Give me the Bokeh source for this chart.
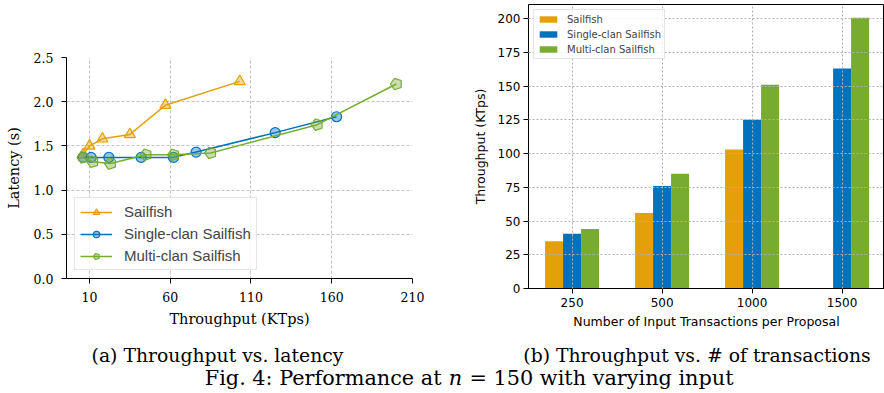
import math
from bokeh.plotting import figure
from bokeh.layouts import row, column
from bokeh.models import (Range1d, FixedTicker, Legend, LegendItem, ColumnDataSource,
                          PrintfTickFormatter)
from bokeh.transform import dodge
from bokeh.core.properties import value
from bokeh.embed import file_html
from bokeh.resources import INLINE

# ---------------- data ----------------
series_names = ["Sailfish", "Single-clan Sailfish", "Multi-clan Sailfish"]

# (a) throughput (KTps) vs latency (s)
sail_tp = [6, 10, 18, 35, 57, 103]
sail_lat = [1.40, 1.50, 1.58, 1.63, 1.96, 2.23]
single_tp = [6, 11, 22, 42, 62, 76, 125, 163]
single_lat = [1.37, 1.37, 1.37, 1.37, 1.37, 1.43, 1.65, 1.83]
multi_tp = [6, 12, 23, 45, 62, 85, 151, 200]
multi_lat = [1.37, 1.32, 1.30, 1.40, 1.40, 1.42, 1.74, 2.20]
lat_xticks = [10, 60, 110, 160, 210]
lat_yticks = [0.0, 0.5, 1.0, 1.5, 2.0, 2.5]

# (b) throughput vs number of input transactions
tx_counts = ["250", "500", "1000", "1500"]
sail_bar = [35, 56, 103, 0]
single_bar = [40.5, 76, 125, 163]
multi_bar = [44, 85, 151, 200.5]
bar_yticks = [0, 25, 50, 75, 100, 125, 150, 175, 200]

caption_a = "(a) Throughput vs. latency"
caption_b = "(b) Throughput vs. # of transactions"
fig_caption = ["Fig. 4: Performance at", "n", "= 150 with varying input"]

C_OR = "#E3A008"
C_BL = "#0072BD"
C_GR = "#77AC30"

SERIF = "DejaVu Serif"
SANS = "DejaVu Sans"
RH = 336   # height of the row of plots
CH = 57    # height of the caption strip

# ---------------- (a) line chart ----------------
p1 = figure(width=440, height=RH, x_range=Range1d(-4.24, 210), y_range=Range1d(0, 2.5),
            output_backend="svg", toolbar_location=None, title=None,
            min_border_left=66, min_border_right=28, min_border_top=57,
            min_border_bottom=RH - 278)
p1.frame_align = False
p1.outline_line_color = None
p1.xaxis.ticker = FixedTicker(ticks=lat_xticks)
p1.yaxis.ticker = FixedTicker(ticks=lat_yticks)
p1.yaxis.formatter = PrintfTickFormatter(format="%.1f")
for ax in (p1.xaxis, p1.yaxis):
    ax.axis_line_color = "black"
    ax.axis_line_width = 1
    ax.major_tick_line_color = "black"
    ax.major_tick_out = 5
    ax.major_tick_in = 0
    ax.minor_tick_line_color = None
    ax.major_label_text_font = SERIF
    ax.major_label_text_font_size = "12.5px"
    ax.major_label_text_color = "black"
    ax.axis_label_text_font = SERIF
    ax.axis_label_text_font_size = "14.5px"
    ax.axis_label_text_font_style = "normal"
    ax.axis_label_text_color = "black"
p1.xaxis.major_label_standoff = 8
p1.yaxis.major_label_standoff = 8
p1.xaxis.axis_label_standoff = 6
p1.yaxis.axis_label_standoff = 9
p1.xaxis.axis_label = "Throughput (KTps)"
p1.yaxis.axis_label = "Latency (s)"
p1.grid.grid_line_color = "#b0b0b0"
p1.grid.grid_line_dash = "3 2"
p1.grid.grid_line_width = 0.8

l1 = p1.line(sail_tp, sail_lat, line_color=C_OR, line_width=1.5)
m1 = p1.scatter(sail_tp, sail_lat, marker="triangle", size=11, line_color=C_OR,
                fill_color=C_OR, fill_alpha=0.4, line_width=1.2)
l2 = p1.line(single_tp, single_lat, line_color=C_BL, line_width=1.5)
m2 = p1.scatter(single_tp, single_lat, marker="circle", size=10, line_color=C_BL,
                fill_color=C_BL, fill_alpha=0.4, line_width=1.2)
l3 = p1.line(multi_tp, multi_lat, line_color=C_GR, line_width=1.5)
try:
    m3 = p1.ngon(multi_tp, multi_lat, radius=6, radius_units="screen", n=5,
                 angle=math.pi / 2, line_color=C_GR, fill_color=C_GR,
                 fill_alpha=0.4, line_width=1.2)
except Exception:
    m3 = p1.scatter(multi_tp, multi_lat, marker="hex", size=11, line_color=C_GR,
                    fill_color=C_GR, fill_alpha=0.4, line_width=1.2)

leg1 = Legend(items=[LegendItem(label=series_names[0], renderers=[l1, m1]),
                     LegendItem(label=series_names[1], renderers=[l2, m2]),
                     LegendItem(label=series_names[2], renderers=[l3, m3])],
              location="bottom_left", margin=8, padding=5, spacing=5,
              glyph_width=32, glyph_height=16, label_height=16, label_standoff=12,
              label_text_font="Liberation Sans", label_text_font_size="15px",
              border_line_color="#cccccc", background_fill_alpha=0.8)
p1.add_layout(leg1)

# ---------------- (b) bar chart ----------------
src = ColumnDataSource(dict(x=list(range(len(tx_counts))), sail=sail_bar,
                            single=single_bar, multi=multi_bar))
p2 = figure(width=444, height=RH, x_range=Range1d(-0.484, 3.471), y_range=Range1d(0, 210.4),
            output_backend="svg", toolbar_location=None, title=None,
            min_border_left=88, min_border_right=0, min_border_top=4,
            min_border_bottom=RH - 288)
p2.frame_align = False
p2.outline_line_color = "black"
p2.outline_line_width = 1
b1 = p2.vbar(x=dodge("x", -0.2), top="sail", width=0.2, source=src,
             fill_color=C_OR, line_color=None)
b2 = p2.vbar(x=dodge("x", 0.0), top="single", width=0.2, source=src,
             fill_color=C_BL, line_color=None)
b3 = p2.vbar(x=dodge("x", 0.2), top="multi", width=0.2, source=src,
             fill_color=C_GR, line_color=None)
p2.xaxis.ticker = FixedTicker(ticks=list(range(len(tx_counts))))
p2.xaxis.major_label_overrides = {i: t for i, t in enumerate(tx_counts)}
p2.yaxis.ticker = FixedTicker(ticks=bar_yticks)
for ax in (p2.xaxis, p2.yaxis):
    ax.axis_line_color = "black"
    ax.major_tick_line_color = "black"
    ax.major_tick_out = 5
    ax.major_tick_in = 0
    ax.minor_tick_line_color = None
    ax.major_label_text_font = SANS
    ax.major_label_text_font_size = "12px"
    ax.major_label_text_color = "black"
    ax.axis_label_text_font = SANS
    ax.axis_label_text_font_size = "12.5px"
    ax.axis_label_text_font_style = "normal"
    ax.axis_label_text_color = "black"
p2.xaxis.major_label_standoff = 4
p2.yaxis.major_label_standoff = 3
p2.xaxis.axis_label_standoff = 4
p2.yaxis.axis_label_standoff = 7
p2.xaxis.axis_label = "Number of Input Transactions per Proposal"
p2.yaxis.axis_label = "Throughput (KTps)"
p2.grid.grid_line_color = "#b0b0b0"
p2.grid.grid_line_dash = "2 2"
p2.grid.grid_line_width = 1
p2.xgrid.level = "overlay"
p2.ygrid.level = "overlay"

leg2 = Legend(items=[LegendItem(label=series_names[0], renderers=[b1]),
                     LegendItem(label=series_names[1], renderers=[b2]),
                     LegendItem(label=series_names[2], renderers=[b3])],
              location="top_left", margin=5, padding=3, spacing=3,
              glyph_width=22, glyph_height=8, label_height=12, label_standoff=8,
              label_text_font=SANS, label_text_font_size="10px",
              border_line_color="#cccccc", background_fill_alpha=0.8)
p2.add_layout(leg2)

# ---------------- captions ----------------
p3 = figure(width=884, height=CH, x_range=Range1d(0, 884), y_range=Range1d(CH, 0),
            x_axis_location=None, y_axis_location=None, title=None,
            min_border=0, min_border_left=0, min_border_right=0,
            min_border_top=0, min_border_bottom=0,
            output_backend="svg", toolbar_location=None)
p3.frame_align = False
p3.grid.visible = False
p3.outline_line_color = None
p3.text(x=[217, 696.5], y=[18.5, 18.5], text=[caption_a, caption_b],
        text_font=value(SERIF), text_font_size="18.8px", text_align="center",
        text_baseline="alphabetic", text_color="black")
fy = 41
p3.text(x=[441], y=[fy], text=[fig_caption[0]], text_font=value(SERIF),
        text_font_size="20.8px", text_align="right", text_baseline="alphabetic",
        text_color="black")
p3.text(x=[455], y=[fy], text=[fig_caption[1]], text_font=value(SERIF),
        text_font_size="20.8px", text_font_style="italic", text_align="center",
        text_baseline="alphabetic", text_color="black")
p3.text(x=[469], y=[fy], text=[fig_caption[2]], text_font=value(SERIF),
        text_font_size="20.8px", text_align="left", text_baseline="alphabetic",
        text_color="black")

layout = column(row(p1, p2), p3)
open("out.html", "w").write(file_html(layout, INLINE))
